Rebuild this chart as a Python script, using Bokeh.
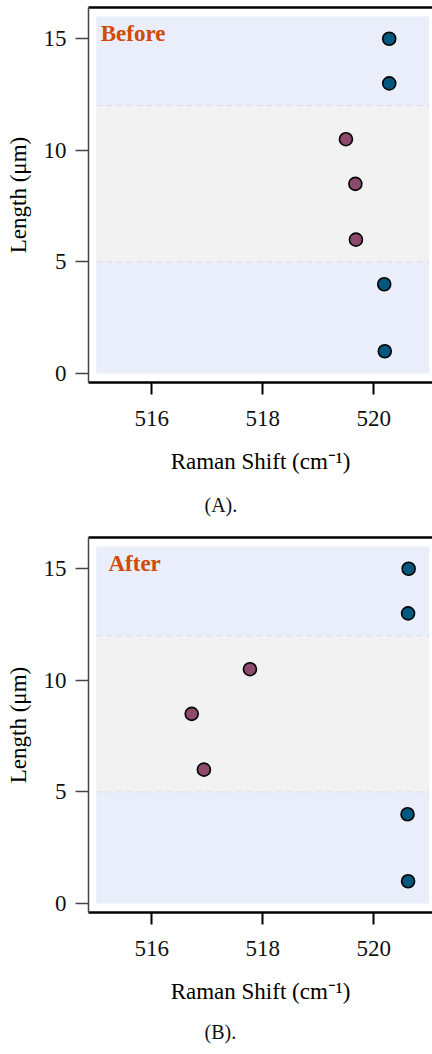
from bokeh.plotting import figure
from bokeh.layouts import column
from bokeh.models import LinearAxis, FixedTicker, Range1d
from bokeh.core.properties import value
from bokeh.embed import file_html
from bokeh.resources import INLINE

# ---- data ----
lengths = [15, 13, 10.5, 8.5, 6, 4, 1]
before_shift = [520.28, 520.28, 519.50, 519.67, 519.68, 520.19, 520.20]
after_shift = [520.63, 520.62, 517.77, 516.72, 516.94, 520.61, 520.62]
region = ["edge", "edge", "center", "center", "center", "edge", "edge"]

band_bottom = [0, 5, 12]
band_top = [5, 12, 16]
band_region = ["edge", "center", "edge"]
band_left = 515
band_right = 521
band_lines = [5, 12]

x_ticks = [516, 518, 520]
y_ticks = [0, 5, 10, 15]

point_color = {"edge": "#00587F", "center": "#8E4A6C"}
band_color = {"edge": "#EAEEFA", "center": "#F2F2F2"}

SERIF = "Liberation Serif"


def make_panel(shift, label, label_x, label_y, caption, height, bottom, cap_standoff):
    p = figure(width=432, height=height, output_backend="svg", toolbar_location=None,
               x_range=Range1d(514.86, 521.06), y_range=Range1d(-0.4, 16.4),
               min_border_left=88, min_border_right=0, min_border_top=7,
               min_border_bottom=bottom, background_fill_color="white",
               border_fill_color="white", outline_line_color=None,
               title=caption, title_location="below")
    p.xgrid.visible = False
    p.ygrid.visible = False

    p.quad(left=[band_left] * len(band_bottom), right=[band_right] * len(band_bottom),
           bottom=band_bottom, top=band_top,
           fill_color=[band_color[r] for r in band_region], line_color=None)
    p.segment(x0=[band_left] * len(band_lines), x1=[band_right] * len(band_lines),
              y0=band_lines, y1=band_lines, line_color="#DADDE8", line_width=1,
              line_dash="6 4")

    p.scatter(x=shift, y=lengths, size=13, fill_color=[point_color[r] for r in region],
              line_color="black", line_width=1.6)

    p.text(x=[label_x], y=[label_y], text=[label], text_font=value(SERIF),
           text_font_style="bold", text_font_size="23px", text_color="#D04A08",
           text_baseline="top", text_align="left")

    # axes
    xa = p.xaxis[0]
    xa.ticker = FixedTicker(ticks=x_ticks)
    xa.axis_label = "Raman Shift (cm\u207b\u00b9)"
    xa.axis_label_text_font = SERIF
    xa.axis_label_text_font_style = "normal"
    xa.axis_label_text_font_size = "23px"
    xa.axis_label_text_color = "black"
    xa.axis_label_standoff = 20
    xa.major_label_text_font = SERIF
    xa.major_label_text_font_size = "23px"
    xa.major_label_text_color = "#111111"
    xa.major_label_standoff = 16
    xa.axis_line_color = "black"
    xa.axis_line_width = 2.5
    xa.major_tick_line_color = "black"
    xa.major_tick_line_width = 2
    xa.major_tick_out = 12
    xa.major_tick_in = 0
    xa.minor_tick_line_color = None

    ya = p.yaxis[0]
    ya.ticker = FixedTicker(ticks=y_ticks)
    ya.axis_label = "Length (\u03bcm)"
    ya.axis_label_text_font = SERIF
    ya.axis_label_text_font_style = "normal"
    ya.axis_label_text_font_size = "23px"
    ya.axis_label_text_color = "black"
    ya.axis_label_standoff = 10
    ya.major_label_text_font = SERIF
    ya.major_label_text_font_size = "23px"
    ya.major_label_text_color = "#111111"
    ya.major_label_standoff = 9
    ya.major_label_orientation = "horizontal"
    ya.axis_line_color = "#444444"
    ya.axis_line_width = 1.5
    ya.major_tick_line_color = "#444444"
    ya.major_tick_line_width = 1.5
    ya.major_tick_out = 13
    ya.major_tick_in = 0
    ya.minor_tick_line_color = None

    top = LinearAxis(ticker=FixedTicker(ticks=[]), axis_line_color="black",
                     axis_line_width=2.5, major_tick_line_color=None,
                     minor_tick_line_color=None, major_label_text_font_size="0px")
    p.add_layout(top, "above")

    p.title.text_font = SERIF
    p.title.text_font_style = "normal"
    p.title.text_font_size = "20px"
    p.title.text_color = "#111111"
    p.title.align = "left"
    p.title.offset = 116
    p.title.standoff = cap_standoff
    return p


p1 = make_panel(before_shift, "Before", 515.08, 15.78, "(A).", 530, 148, 30)
p2 = make_panel(after_shift, "After", 515.22, 15.78, "(B).", 524, 142, 24)

layout = column(p1, p2, spacing=0)
open("out.html", "w").write(file_html(layout, INLINE))
